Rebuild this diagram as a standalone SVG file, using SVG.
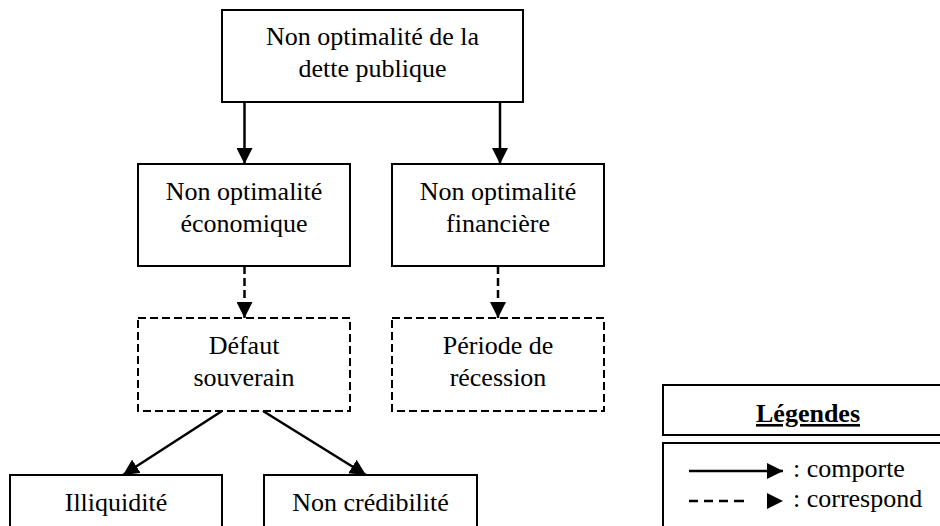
<svg xmlns="http://www.w3.org/2000/svg" width="940" height="526" viewBox="0 0 940 526">
<defs>
<marker id="ah" markerUnits="userSpaceOnUse" markerWidth="16" markerHeight="16" viewBox="0 0 16 16" refX="16" refY="8" orient="auto">
<path d="M0,0 L16,8 L0,16 Z" fill="#000"/>
</marker>
<style>
text{font-family:"Liberation Serif","Times New Roman",serif;font-size:26px;fill:#000;text-anchor:middle}
.box{fill:#fff;stroke:#000;stroke-width:2}
.dbox{fill:#fff;stroke:#000;stroke-width:2;stroke-dasharray:8 4}
.c{fill:none;stroke:#000;stroke-width:2.5;marker-end:url(#ah)}
.d{stroke-dasharray:8 4}
.ld{stroke-dasharray:9 6 9 6 9 6 10 40}
.lt{text-anchor:start}
</style>
</defs>
<g id="connectors">
<line class="c" x1="244.5" y1="102" x2="244.5" y2="164"/>
<line class="c" x1="500" y1="102" x2="500" y2="164"/>
<line class="c d" x1="244.5" y1="266" x2="244.5" y2="318"/>
<line class="c d" x1="498" y1="266" x2="498" y2="318"/>
<line class="c" x1="222" y1="411" x2="123" y2="475"/>
<line class="c" x1="263" y1="411" x2="366" y2="475"/>
</g>
<g id="n-root">
<rect class="box" x="222" y="10" width="301" height="92"/>
<text x="372.5" y="45">Non optimalité de la</text>
<text x="372.5" y="77">dette publique</text>
</g>
<g id="n-eco">
<rect class="box" x="138" y="164" width="212" height="102"/>
<text x="244" y="200">Non optimalité</text>
<text x="244" y="232">économique</text>
</g>
<g id="n-fin">
<rect class="box" x="392" y="164" width="212" height="102"/>
<text x="498" y="200">Non optimalité</text>
<text x="498" y="232">financière</text>
</g>
<g id="n-defaut">
<rect class="dbox" x="138" y="318" width="212" height="93"/>
<text x="244" y="354">Défaut</text>
<text x="244" y="386">souverain</text>
</g>
<g id="n-recession">
<rect class="dbox" x="392" y="318" width="212" height="93"/>
<text x="498" y="354">Période de</text>
<text x="498" y="386">récession</text>
</g>
<g id="n-illiq">
<rect class="box" x="10" y="475" width="212" height="70"/>
<text x="116" y="511">Illiquidité</text>
</g>
<g id="n-cred">
<rect class="box" x="264" y="475" width="213" height="70"/>
<text x="370.5" y="511">Non crédibilité</text>
</g>
<g id="legend">
<rect class="box" x="663" y="385" width="300" height="50"/>
<text x="808" y="422" font-weight="bold" text-decoration="underline">Légendes</text>
<rect class="box" x="663" y="443" width="300" height="100"/>
<line class="c" x1="689" y1="471" x2="783" y2="471"/>
<line class="c ld" x1="689" y1="501" x2="783" y2="501"/>
<text class="lt" x="793" y="477">: comporte</text>
<text class="lt" x="793" y="507">: correspond</text>
</g>
</svg>
